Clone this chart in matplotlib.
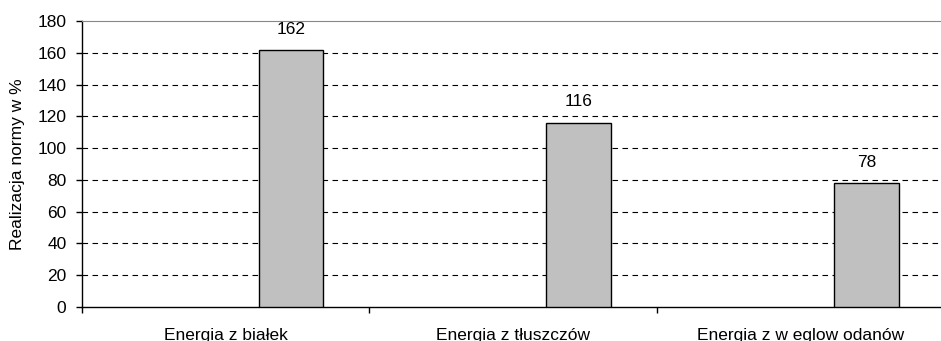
import numpy as np
import matplotlib.pyplot as plt

plt.rcParams['font.family'] = ['Liberation Sans', 'DejaVu Sans']

kategorie = ['Energia z białek', 'Energia z tłuszczów', 'Energia z w eglow odanów']
realizacja = [162, 116, 78]
y_ticks = list(range(0, 181, 20))

fs = 12.5

fig = plt.figure(figsize=(9.41, 3.41), dpi=100)
ax = fig.add_axes([0.0868, 0.1006, 0.917, 0.8369])

x = np.arange(len(kategorie))
bars = ax.bar(x + 0.616, realizacja, width=0.224, align='edge',
              color='#C0C0C0', edgecolor='black', linewidth=1.0, zorder=3)

for b, v in zip(bars, realizacja):
    ax.annotate(str(v), (b.get_x() + b.get_width() / 2, v),
                xytext=(0, 15), textcoords='offset points',
                ha='center', va='center', fontsize=fs)

ax.set_xlim(0, len(kategorie))
ax.set_ylim(0, 180)
ax.set_yticks(y_ticks)
ax.tick_params(axis='y', length=4, width=1, pad=7, labelsize=fs)

# ticks at category boundaries, labels in the middle
ax.set_xticks(np.arange(len(kategorie) + 1))
ax.set_xticklabels([])
ax.set_xticks(x + 0.5, minor=True)
ax.set_xticklabels(kategorie, minor=True, fontsize=fs)
ax.tick_params(axis='x', which='major', length=4, width=1)
ax.tick_params(axis='x', which='minor', length=0, pad=15)

for yv in y_ticks[1:-1]:
    ax.axhline(yv, color='black', linewidth=0.8, dashes=(5, 4), zorder=1)

ax.spines['top'].set_color('#888888')
ax.spines['right'].set_visible(False)
ax.spines['left'].set_linewidth(1)
ax.spines['bottom'].set_linewidth(1)

ax.set_ylabel('Realizacja normy w %', fontsize=fs, labelpad=9)

fig.savefig('out.png', dpi=100)
